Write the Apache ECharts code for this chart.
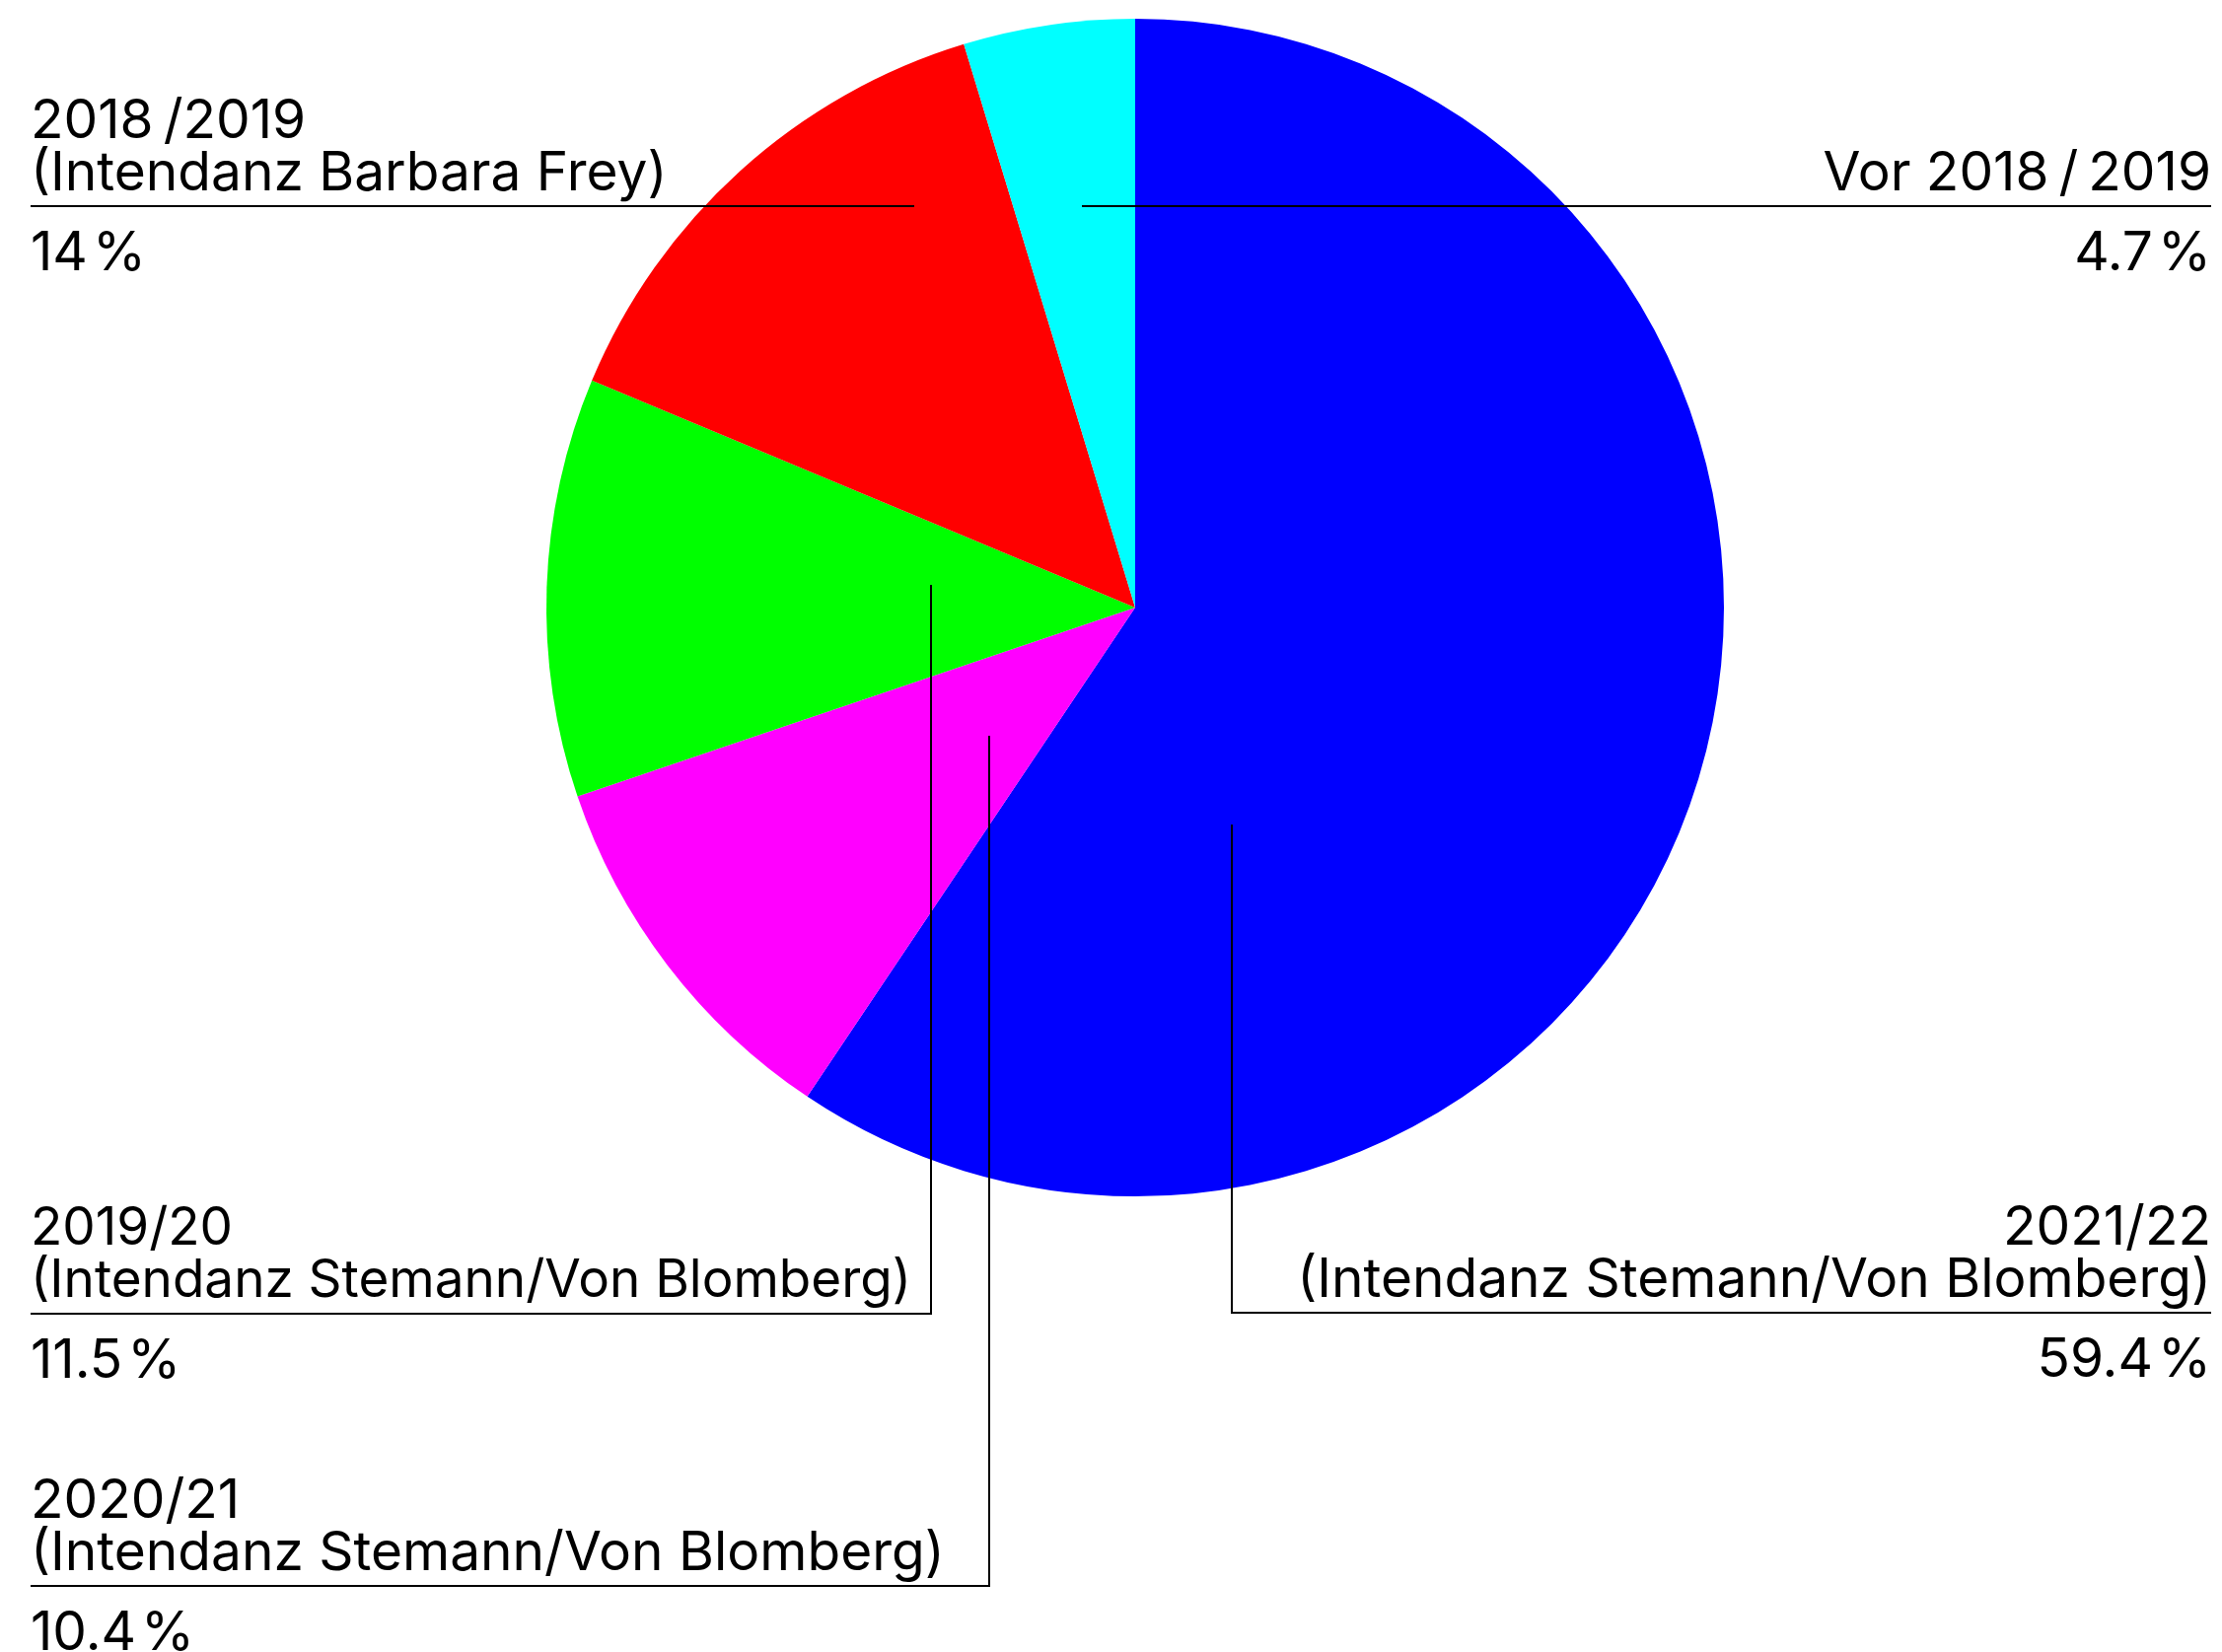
<!DOCTYPE html>
<html>
<head>
<meta charset="utf-8">
<script src="https://cdn.jsdelivr.net/npm/echarts@6/dist/echarts.min.js"></script>
<style>
  html, body { margin: 0; padding: 0; background: #ffffff; }
  #chart { width: 2253px; height: 1675px; }
</style>
</head>
<body>
<div id="chart"></div>
<script>
// Seasons in drawing order (clockwise from 12 o'clock)
const seasons = ['2021/22', '2020/21', '2019/20', '2018\u2009/2019', 'Vor 2018\u2009/\u20092019'];
const directorships = [
  '(Intendanz Stemann/Von Blomberg)',
  '(Intendanz Stemann/Von Blomberg)',
  '(Intendanz Stemann/Von Blomberg)',
  '(Intendanz Barbara Frey)',
  ''
];
const shares = [59.4, 10.4, 11.5, 14, 4.7];
const sliceColors = ['#0000ff', '#ff00ff', '#00ff00', '#ff0000', '#00ffff'];

// Geometry of the pie and the label columns
const pieCenter = [1151, 616];
const pieRadius = 597;
const textLeft = 31;
const textRight = 2242;
const titleLineHeight = 53;
const labelFontSize = 55;

// Leader routes: start point inside each slice and the rule under the title
const leaders = [
  { side: 'right', anchor: [1249, 836], ruleY: 1331, style: 't' },
  { side: 'left',  anchor: [1003, 746], ruleY: 1608, style: 't' },
  { side: 'left',  anchor: [944, 593],  ruleY: 1332, style: 'n' },
  { side: 'left',  anchor: [927, 209],  ruleY: 209,  style: 't' },
  { side: 'right', anchor: [1097, 209], ruleY: 209,  style: 't' }
];

const chart = echarts.init(document.getElementById('chart'), null, { renderer: 'canvas' });

const slices = shares.map((v, i) => ({
  name: seasons[i],
  value: v,
  itemStyle: { color: sliceColors[i] }
}));

// Transparent copy of the slices that carries labels and leader lines above the fills
const labelCarriers = shares.map((v, i) => ({
  name: seasons[i],
  value: v,
  itemStyle: { color: 'rgba(0,0,0,0)' }
}));

const common = {
  type: 'pie',
  center: pieCenter,
  radius: pieRadius,
  startAngle: 90,
  clockwise: true,
  avoidLabelOverlap: false,
  silent: true,
  emphasis: { disabled: true },
  itemStyle: { borderWidth: 0 }
};

chart.setOption({
  animation: false,
  backgroundColor: '#ffffff',
  series: [
    Object.assign({}, common, {
      z: 2,
      data: slices,
      label: { show: false },
      labelLine: { show: false }
    }),
    Object.assign({}, common, {
      z: 5,
      data: labelCarriers,
      label: {
        show: true,
        position: 'outside',
        fontFamily: 'Inter',
        color: '#000000',
        formatter: function (p) {
          const i = p.dataIndex;
          const st = leaders[i].style;
          let s = '{' + st + '|' + seasons[i] + '}';
          if (directorships[i]) s += '\n{' + st + '|' + directorships[i] + '}';
          s += '\n{p|' + p.value + '\u200a%}';
          return s;
        },
        rich: {
          t: { fontFamily: 'Inter', fontSize: labelFontSize, lineHeight: titleLineHeight, color: '#000000' },
          n: { fontFamily: 'Inter', fontSize: labelFontSize - 2, lineHeight: titleLineHeight, color: '#000000' },
          p: { fontFamily: 'Inter', fontSize: labelFontSize, lineHeight: 109, color: '#000000' }
        }
      },
      labelLine: {
        show: true,
        smooth: false,
        lineStyle: { color: '#000000', width: 2 }
      },
      labelLayout: function (params) {
        const i = params.dataIndex;
        const L = leaders[i];
        const lines = directorships[i] ? 2 : 1;
        const x = L.side === 'left' ? textLeft : textRight;
        return {
          x: x,
          y: L.ruleY - 6.5 - lines * titleLineHeight,
          align: L.side,
          verticalAlign: 'top',
          labelLinePoints: [
            L.anchor,
            [L.anchor[0], L.ruleY],
            [x, L.ruleY]
          ]
        };
      }
    })
  ]
});
</script>
</body>
</html>
